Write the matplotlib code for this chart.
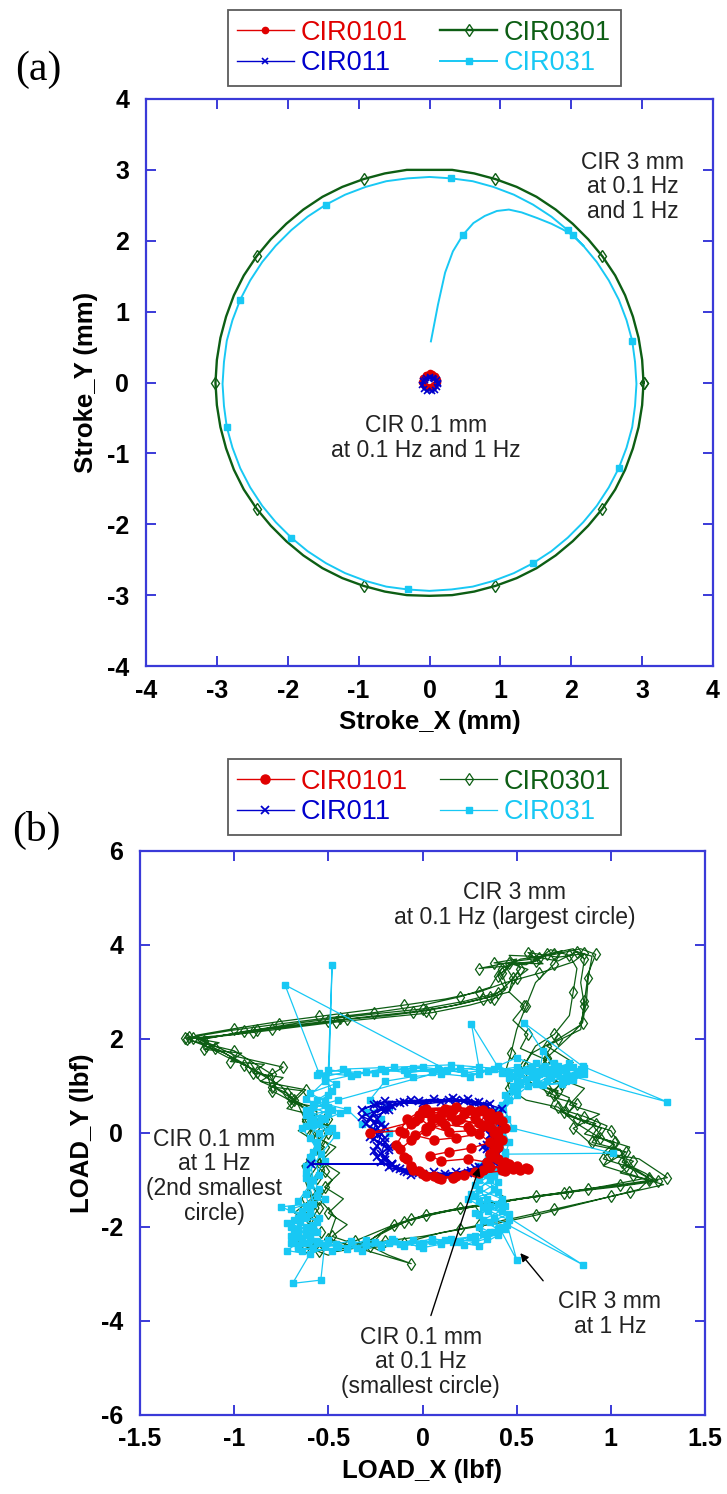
import matplotlib
matplotlib.use("Agg")
import matplotlib.pyplot as plt

plt.rcParams['font.family'] = ['Liberation Sans', 'DejaVu Sans']
plt.rcParams['axes.unicode_minus'] = False

# ---------------- series styling ----------------
RED = '#e00000'
GREEN = '#0d5e14'
BLUE = '#0000cc'
CYAN = '#18c8f4'
SPINE = '#3a3ad8'

names = ['CIR0101', 'CIR011', 'CIR0301', 'CIR031']

# ---------------- (a) stroke paths, mm ----------------
cir0301_a_x = [3.02, 3.00, 2.95, 2.87, 2.76, 2.62, 2.44, 2.24, 2.02, 1.78, 1.51, 1.23, 0.93, 0.63, 0.32, 0.00,
               -0.32, -0.63, -0.93, -1.23, -1.51, -1.78, -2.02, -2.24, -2.44, -2.62, -2.76, -2.87, -2.95, -3.00, -3.02,
               -3.00, -2.95, -2.87, -2.76, -2.62, -2.44, -2.24, -2.02, -1.78, -1.51, -1.23, -0.93, -0.63, -0.32, 0.00,
               0.32, 0.63, 0.93, 1.23, 1.51, 1.78, 2.02, 2.24, 2.44, 2.62, 2.76, 2.87, 2.95, 3.00, 3.02]
cir0301_a_y = [0.00, 0.32, 0.63, 0.93, 1.23, 1.51, 1.78, 2.02, 2.24, 2.44, 2.62, 2.76, 2.87, 2.95, 3.00, 3.00,
               3.00, 2.95, 2.87, 2.76, 2.62, 2.44, 2.24, 2.02, 1.78, 1.51, 1.23, 0.93, 0.63, 0.32, 0.00,
               -0.32, -0.63, -0.93, -1.23, -1.51, -1.78, -2.02, -2.24, -2.44, -2.62, -2.76, -2.87, -2.95, -3.00, -3.01,
               -3.00, -2.95, -2.87, -2.76, -2.62, -2.44, -2.24, -2.02, -1.78, -1.51, -1.23, -0.93, -0.63, -0.32, 0.00]

cir031_a_x = [0.02, 0.12, 0.22, 0.33, 0.47, 0.62, 0.78, 0.95, 1.12, 1.30, 1.52, 1.72, 1.88, 2.02,
              2.17, 2.36, 2.53, 2.67, 2.78, 2.86, 2.90, 2.92, 2.90, 2.86, 2.78, 2.67, 2.53, 2.36, 2.17,
              1.95, 1.72, 1.46, 1.19, 0.90, 0.61, 0.31, 0.00, -0.31, -0.61, -0.90, -1.19, -1.46, -1.72,
              -1.95, -2.17, -2.36, -2.53, -2.67, -2.78, -2.86, -2.90, -2.92, -2.90, -2.86, -2.78, -2.67,
              -2.53, -2.36, -2.17, -1.95, -1.72, -1.46, -1.19, -0.90, -0.61, -0.31, 0.00, 0.31, 0.61,
              0.90, 1.19, 1.46, 1.72, 1.95, 2.17]
cir031_a_y = [0.58, 1.10, 1.55, 1.85, 2.08, 2.25, 2.35, 2.42, 2.44, 2.40, 2.32, 2.24, 2.16, 2.08,
              1.93, 1.70, 1.44, 1.17, 0.88, 0.59, 0.29, -0.02, -0.33, -0.63, -0.92, -1.21, -1.48, -1.74, -1.97,
              -2.19, -2.38, -2.55, -2.69, -2.80, -2.88, -2.92, -2.94, -2.92, -2.88, -2.80, -2.69, -2.55, -2.38,
              -2.19, -1.97, -1.74, -1.48, -1.21, -0.92, -0.63, -0.33, -0.02, 0.29, 0.59, 0.88, 1.17,
              1.44, 1.70, 1.93, 2.15, 2.34, 2.51, 2.65, 2.76, 2.84, 2.88, 2.90, 2.88, 2.84,
              2.76, 2.65, 2.51, 2.34, 2.15, 1.93]
cir031_a_marks = [4, 13, 19, 25, 31, 37, 43, 49, 55, 61, 67, 73]

cir0101_a_x = [0.10, 0.08, 0.04, 0.00, -0.05, -0.09, -0.10, -0.08, -0.03, 0.02, 0.07, 0.10, 0.09, 0.03, -0.04, -0.08]
cir0101_a_y = [0.03, 0.09, 0.12, 0.13, 0.11, 0.07, 0.01, -0.04, -0.07, -0.07, -0.04, 0.01, 0.07, 0.11, 0.10, 0.05]
cir011_a_x = [0.12, 0.10, 0.05, 0.00, -0.05, -0.09, -0.10, -0.08, -0.03, 0.03, 0.08, 0.11, 0.12, 0.07, 0.00, -0.06]
cir011_a_y = [-0.02, 0.04, 0.07, 0.08, 0.06, 0.02, -0.04, -0.09, -0.12, -0.12, -0.10, -0.06, -0.01, 0.05, 0.07, 0.04]

# ---------------- (b) load paths, lbf ----------------
cir0301_b = [
    (-1.22, 2.02), (-1.00, 2.10), (-0.80, 2.22), (-0.62, 2.30), (-0.40, 2.42), (-0.18, 2.50), (0.02, 2.60),
    (0.20, 2.74), (0.36, 2.90), (0.45, 3.10), (0.42, 3.40), (0.50, 3.70), (0.38, 3.62), (0.55, 3.58),
    (0.66, 3.80), (0.80, 3.92), (0.86, 3.70), (0.84, 3.20), (0.86, 2.70), (0.84, 2.30), (0.72, 2.00),
    (0.58, 1.70), (0.52, 1.30), (0.58, 1.05), (0.72, 0.90), (0.68, 0.55), (0.82, 0.30), (0.95, 0.10),
    (0.90, -0.20), (1.05, -0.35), (1.08, -0.70), (1.22, -1.00), (1.05, -1.10), (0.82, -1.22), (0.60, -1.35),
    (0.40, -1.48), (0.20, -1.60), (0.00, -1.76), (-0.15, -1.95), (-0.25, -2.20), (-0.32, -2.42), (-0.45, -2.52),
    (-0.58, -2.38), (-0.62, -2.00), (-0.55, -1.60), (-0.60, -1.20), (-0.52, -0.80), (-0.56, -0.40), (-0.50, 0.00),
    (-0.58, 0.40), (-0.70, 0.75), (-0.75, 1.00), (-0.88, 1.30), (-0.98, 1.55), (-1.10, 1.80),
    (-1.18, 1.98), (-0.95, 2.16), (-0.72, 2.28), (-0.50, 2.38), (-0.28, 2.48), (-0.05, 2.58), (0.15, 2.70),
    (0.32, 2.86), (0.46, 3.00), (0.48, 3.30), (0.44, 3.55), (0.30, 3.50), (0.50, 3.66), (0.62, 3.72),
    (0.74, 3.88), (0.70, 3.60), (0.60, 3.20), (0.55, 2.70), (0.50, 2.20), (0.47, 1.70), (0.44, 1.30),
    (0.46, 0.95), (0.55, 0.70), (0.72, 0.55), (0.80, 0.25), (0.92, -0.05), (1.02, -0.25), (0.96, -0.55),
    (1.12, -0.75), (1.20, -0.95), (0.98, -1.12), (0.75, -1.28), (0.52, -1.40), (0.30, -1.55), (0.08, -1.70),
    (-0.10, -1.90), (-0.22, -2.15), (-0.28, -2.40), (-0.18, -2.60), (-0.06, -2.78), (-0.30, -2.50), (-0.50, -2.25),
    (-0.46, -1.80), (-0.55, -1.40), (-0.48, -1.00), (-0.60, -0.55), (-0.55, -0.10), (-0.62, 0.25), (-0.66, 0.60),
    (-0.80, 0.90), (-0.82, 1.20), (-0.95, 1.45), (-1.05, 1.70), (-1.25, 2.00),
    (-1.10, 2.05), (-0.88, 2.20), (-0.66, 2.34), (-0.44, 2.45), (-0.22, 2.55), (0.00, 2.64), (0.22, 2.80),
    (0.40, 2.98), (0.46, 3.20), (0.52, 3.50), (0.46, 3.78), (0.58, 3.76), (0.72, 3.66), (0.82, 3.86),
    (0.90, 3.76), (0.88, 3.30), (0.87, 2.80), (0.85, 2.35), (0.78, 2.05), (0.66, 1.60), (0.60, 1.20),
    (0.66, 0.95), (0.78, 0.75), (0.75, 0.45), (0.88, 0.20), (1.00, 0.05), (1.04, -0.20), (1.00, -0.45),
    (1.15, -0.55), (1.30, -0.95), (1.12, -1.08), (0.88, -1.20), (0.64, -1.32), (0.42, -1.45), (0.22, -1.58),
    (0.02, -1.74), (-0.18, -2.00), (-0.36, -2.30), (-0.50, -2.60), (-0.62, -2.42), (-0.66, -1.95), (-0.58, -1.50),
    (-0.62, -1.05), (-0.54, -0.60), (-0.58, -0.15), (-0.52, 0.30), (-0.64, 0.55), (-0.72, 0.85), (-0.86, 1.10),
    (-0.92, 1.40), (-1.04, 1.62), (-1.15, 1.85),
    (-1.20, 2.00), (-0.90, 2.14), (-0.70, 2.24), (-0.46, 2.36), (-0.20, 2.46), (0.05, 2.56), (0.25, 2.72),
    (0.38, 2.86), (0.44, 3.05), (0.40, 3.35), (0.48, 3.60), (0.60, 3.65), (0.68, 3.90), (0.78, 3.78),
    (0.82, 3.50), (0.80, 3.00), (0.78, 2.50), (0.70, 2.10), (0.60, 1.85), (0.54, 1.45), (0.56, 1.10),
    (0.70, 0.80), (0.74, 0.50), (0.86, 0.35), (0.98, 0.15), (0.94, -0.10), (1.10, -0.30), (1.06, -0.62),
    (1.18, -0.85), (1.25, -1.02), (1.02, -1.15), (0.78, -1.26), (0.56, -1.38), (0.34, -1.52), (0.14, -1.66),
    (-0.06, -1.84), (-0.20, -2.08), (-0.30, -2.34), (-0.40, -2.45), (-0.55, -2.50), (-0.62, -2.20), (-0.58, -1.85),
    (-0.64, -1.40), (-0.56, -0.95), (-0.52, -0.50), (-0.60, -0.05), (-0.56, 0.45), (-0.68, 0.70), (-0.78, 0.95),
    (-0.80, 1.25), (-0.90, 1.50), (-1.00, 1.75), (-1.22, 1.96),
    (-1.24, 2.04), (-1.08, 1.92), (-1.16, 1.78), (-0.96, 1.70), (-1.02, 1.52), (-0.84, 1.46), (-0.90, 1.28),
    (-0.74, 1.18), (-0.80, 0.98), (-0.64, 0.90), (-0.70, 0.66), (-0.56, 0.55), (-0.62, 0.30), (-0.50, 0.15),
    (-0.56, -0.10), (-0.46, -0.30), (-0.54, -0.60), (-0.44, -0.85), (-0.52, -1.15), (-0.42, -1.40), (-0.50, -1.70),
    (-0.40, -1.95), (-0.48, -2.20), (-0.36, -2.36), (-0.20, -2.30), (0.00, -2.20), (0.20, -2.05), (0.40, -1.92),
    (0.60, -1.75), (0.80, -1.55), (1.00, -1.35), (1.15, -1.20), (1.20, -1.00), (1.05, -0.85), (1.12, -0.60),
    (0.96, -0.42), (1.02, -0.20), (0.86, -0.02), (0.92, 0.20), (0.76, 0.38), (0.82, 0.62), (0.66, 0.80),
    (0.74, 1.05), (0.60, 1.30), (0.66, 1.55), (0.52, 1.80), (0.56, 2.10), (0.48, 2.40), (0.54, 2.70),
    (0.46, 3.00), (0.50, 3.30), (0.56, 3.48), (0.46, 3.62), (0.64, 3.60), (0.56, 3.84), (0.72, 3.74),
    (0.86, 3.82), (0.80, 3.64), (0.62, 3.40), (0.44, 3.20), (0.30, 3.00), (0.12, 2.85), (-0.10, 2.72),
    (-0.32, 2.60), (-0.55, 2.48), (-0.78, 2.36), (-1.00, 2.22), (-1.20, 2.08),
    (-1.16, 1.96), (-0.98, 1.62), (-0.74, 1.40), (-0.86, 1.10), (-0.62, 0.92), (-0.72, 0.52), (-0.50, 0.30),
    (-0.66, 0.05), (-0.52, -0.30), (-0.64, -0.70), (-0.56, -1.30), (-0.68, -1.70), (-0.54, -2.10), (-0.66, -2.30),
    (-0.40, -2.40), (-0.30, -2.46), (-0.10, -2.34), (0.10, -2.12), (0.30, -1.96), (0.50, -1.80), (0.70, -1.62),
    (0.90, -1.44), (1.10, -1.26), (1.28, -1.10), (1.12, -0.90), (0.96, -0.70), (1.08, -0.40), (0.90, -0.25),
    (0.80, 0.10), (0.94, 0.40), (0.78, 0.60), (0.86, 0.95), (0.70, 1.20), (0.80, 1.50), (0.66, 1.85),
    (0.84, 2.20), (0.86, 2.80), (0.88, 3.40), (0.92, 3.80), (0.84, 3.92), (0.70, 3.80), (0.52, 3.70),
    (0.42, 3.50), (0.36, 3.10), (0.20, 2.90), (-0.02, 2.70), (-0.26, 2.56), (-0.52, 2.44), (-0.76, 2.32),
    (-1.02, 2.18), (-1.26, 2.02),
]

cir031_b = [
    (0.80, 1.40), (0.72, 1.30), (0.78, 1.22), (0.66, 1.36), (0.58, 1.28), (0.50, 1.40), (0.35, 1.32),
    (0.20, 1.38), (0.05, 1.30), (-0.10, 1.35), (-0.25, 1.28), (-0.40, 1.30), (-0.52, 1.20), (-0.48, 0.90),
    (-0.56, 0.70), (-0.50, 0.55), (-0.60, 0.45), (-0.52, 0.30), (-0.62, 0.15), (-0.55, 0.00), (-0.58, -0.40),
    (-0.55, -0.90), (-0.62, -1.30), (-0.60, -1.60), (-0.66, -1.80), (-0.58, -1.95), (-0.68, -2.10), (-0.60, -2.25),
    (-0.66, -2.40), (-0.55, -2.35), (-0.45, -2.42), (-0.30, -2.38), (-0.15, -2.30), (0.00, -2.34), (0.15, -2.26),
    (0.28, -2.20), (0.40, -2.05), (0.32, -1.85), (0.42, -1.65), (0.30, -1.45), (0.38, -1.20), (0.34, -0.90),
    (0.40, -0.60), (0.42, -0.20), (0.45, 0.30), (0.44, 0.80), (0.50, 1.10), (0.60, 1.20), (0.70, 1.45),
    (0.82, 1.30),
    (0.75, 1.15), (0.64, 1.74), (0.62, 1.25), (0.55, 1.35), (0.42, 1.28), (0.26, 2.32), (0.30, 1.40),
    (0.12, 1.32), (-0.05, 1.38), (-0.20, 1.32), (-0.35, 1.25), (-0.50, 1.35), (-0.48, 3.57), (-0.50, 0.80),
    (-0.58, 0.62), (-0.48, 0.48), (-0.62, 0.38), (-0.55, 0.20), (-0.60, -0.10), (-0.52, -0.60), (-0.60, -1.10),
    (-0.58, -1.50), (-0.75, -1.57), (-0.65, -1.75), (-0.70, -2.00), (-0.62, -2.15), (-0.68, -2.30), (-0.58, -2.45),
    (-0.69, -3.20), (-0.54, -3.13), (-0.52, -2.40), (-0.38, -2.30), (-0.22, -2.42), (-0.05, -2.28), (0.10, -2.36),
    (0.25, -2.22), (0.36, -2.10), (0.45, -1.95), (0.50, -2.70), (0.38, -1.80), (0.85, -2.80), (0.36, -1.55),
    (0.28, -1.35), (0.40, -1.05), (0.32, -0.80), (0.44, -0.45), (1.01, -0.43), (0.48, 0.10), (0.42, 0.60),
    (0.48, 1.00), (0.66, 1.10), (0.80, 1.20), (1.30, 0.66), (0.85, 1.42), (0.54, 2.34), (0.70, 1.38),
    (0.78, 1.48), (0.68, 1.22), (0.56, 1.32), (0.46, 1.18), (0.38, 1.36), (0.22, 1.28), (0.08, 1.36),
    (-0.08, 1.28), (-0.22, 1.36), (-0.38, 1.22), (-0.55, 1.28), (-0.73, 3.15), (0.13, 1.34), (-0.45, 0.70),
    (-0.58, 0.55), (-0.50, 0.40), (-0.60, 0.25), (-0.48, 0.10), (-0.56, -0.20), (-0.62, -0.70), (-0.55, -1.20),
    (-0.62, -1.55), (-0.55, -1.80), (-0.65, -1.90), (-0.58, -2.05), (-0.70, -2.20), (-0.62, -2.35), (-0.50, -2.28),
    (-0.40, -2.46), (-0.25, -2.32), (-0.10, -2.40), (0.05, -2.25), (0.20, -2.32), (0.32, -2.15), (0.42, -2.00),
    (0.30, -1.75), (0.40, -1.50), (0.26, -1.30), (0.36, -1.00), (0.30, -0.70), (0.38, -0.30), (0.40, 0.20),
    (0.46, 0.70), (0.52, 1.05), (0.64, 1.28), (0.76, 1.10), (0.84, 1.36),
    (0.72, 1.42), (0.60, 1.10), (0.52, 1.25), (0.40, 1.42), (0.25, 1.20), (0.10, 1.26), (-0.05, 1.20),
    (-0.20, 1.10), (-0.28, 0.70), (-0.18, 0.55), (-0.30, 0.45), (-0.22, 0.30), (-0.18, 0.00), (-0.32, 0.20),
    (-0.40, 0.50), (-0.52, 0.62), (-0.62, 0.48), (-0.54, 0.32), (-0.64, 0.10), (-0.56, -0.30), (-0.62, -0.85),
    (-0.56, -1.35), (-0.64, -1.65), (-0.56, -1.90), (-0.66, -2.05), (-0.60, -2.20), (-0.70, -2.35), (-0.64, -2.50),
    (-0.52, -2.38), (-0.35, -2.44), (-0.18, -2.34), (-0.02, -2.40), (0.12, -2.28), (0.28, -2.30), (0.38, -2.10),
    (0.46, -1.85), (0.35, -1.65), (0.42, -1.40), (0.30, -1.20), (0.38, -0.90), (0.35, -0.50), (0.42, 0.00),
    (0.40, 0.50), (0.50, 0.95), (0.58, 1.20), (0.70, 1.30), (0.82, 1.25),
    (0.86, 1.38), (0.74, 1.18), (0.65, 1.42), (0.55, 1.15), (0.46, 1.30), (0.60, 1.48), (0.72, 1.25),
    (0.50, 1.60), (0.30, 1.25), (0.00, 1.40), (-0.30, 1.30), (-0.52, 1.10), (-0.62, 0.72), (-0.50, 0.50),
    (-0.58, 0.30), (-0.50, 0.05), (-0.60, -0.50), (-0.58, -1.00), (-0.66, -1.45), (-0.60, -1.70), (-0.68, -1.85),
    (-0.62, -2.00), (-0.66, -2.20), (-0.56, -2.30), (-0.66, -2.45), (-0.48, -2.50), (-0.30, -2.28), (-0.12, -2.36),
    (0.05, -2.30), (0.22, -2.38), (0.34, -2.25), (0.44, -2.05), (0.36, -1.90), (0.28, -1.70), (0.44, -1.55),
    (0.34, -1.40), (0.28, -1.10), (0.40, -0.80), (0.44, -0.40), (0.38, 0.10), (0.42, 0.55), (0.48, 0.90),
    (0.60, 1.05), (0.76, 1.38),
    (0.62, 1.32), (0.68, 1.18), (0.76, 1.34), (0.70, 1.48), (0.58, 1.40), (0.48, 1.22), (0.52, 1.08),
    (0.64, 1.02), (0.80, 1.12), (0.86, 1.26), (0.50, 1.34), (0.15, 1.45), (-0.15, 1.40), (-0.42, 1.36),
    (-0.56, 1.24), (-0.46, 1.05), (-0.60, 0.85), (-0.52, 0.68), (-0.44, 0.42), (-0.58, 0.18), (-0.46, -0.05),
    (-0.54, -0.45), (-0.62, -0.95), (-0.52, -1.40), (-0.70, -1.62), (-0.62, -1.78), (-0.72, -1.92), (-0.56, -2.10),
    (-0.64, -2.28), (-0.72, -2.50), (-0.60, -2.58), (-0.46, -2.36), (-0.32, -2.50), (-0.16, -2.26), (0.00, -2.44),
    (0.16, -2.32), (0.30, -2.40), (0.40, -2.18), (0.30, -2.00), (0.46, -1.72), (0.32, -1.58), (0.24, -1.40),
    (0.40, -1.25), (0.30, -1.00), (0.42, -0.70), (0.46, -0.20), (0.40, 0.35), (0.50, 0.80), (0.56, 1.00),
    (0.74, 1.05),
]

cir0101_b = [
    (0.00, 0.48), (0.12, 0.52), (0.25, 0.50), (0.36, 0.42), (0.42, 0.25), (0.40, 0.05), (0.42, -0.15),
    (0.38, -0.35), (0.40, -0.55), (0.46, -0.70), (0.55, -0.74), (0.48, -0.76), (0.36, -0.72), (0.28, -0.82),
    (0.18, -0.92), (0.08, -0.96), (0.00, -0.88), (-0.06, -0.70), (-0.10, -0.50), (-0.14, -0.25), (-0.10, 0.00),
    (-0.06, 0.20), (-0.02, 0.38),
    (0.05, 0.30), (0.15, 0.36), (0.28, 0.32), (0.34, 0.20), (0.24, 0.12), (0.12, 0.18), (0.02, 0.10),
    (-0.04, -0.05), (0.06, -0.15), (0.18, -0.10), (0.30, -0.02), (0.36, -0.20), (0.26, -0.32), (0.14, -0.40),
    (0.04, -0.48), (0.10, -0.60), (0.24, -0.55), (0.34, -0.62), (0.42, -0.78), (0.50, -0.70), (0.38, -0.50),
    (0.40, -0.30), (0.38, 0.00), (0.40, 0.30), (0.30, 0.46), (0.16, 0.48), (0.04, 0.42), (-0.04, 0.25),
    (-0.28, 0.00), (-0.12, 0.05), (-0.08, 0.30), (0.02, 0.52), (0.18, 0.55), (0.32, 0.48), (0.40, 0.36),
    (0.44, 0.10), (0.40, -0.20), (0.36, -0.45), (0.44, -0.62), (0.52, -0.78), (0.42, -0.72), (0.32, -0.78),
    (0.22, -0.90), (0.10, -0.98), (0.02, -0.92), (-0.05, -0.78), (-0.08, -0.55), (-0.12, -0.35), (-0.06, -0.15),
    (0.02, 0.05), (0.10, 0.25), (0.22, 0.40), (0.34, 0.38), (0.30, 0.22), (0.18, 0.25), (0.08, 0.32),
    (0.00, 0.46), (0.14, 0.50), (0.28, 0.44), (0.38, 0.30), (0.36, 0.12), (0.26, 0.05), (0.14, 0.02),
    (0.04, 0.15), (-0.02, 0.32), (0.10, 0.40), (0.20, 0.30), (0.32, 0.14), (0.40, -0.08), (0.38, -0.40),
    (0.46, -0.66), (0.56, -0.76), (0.44, -0.80), (0.30, -0.86), (0.16, -0.95), (0.06, -0.92), (-0.02, -0.80),
]

cir011_b = [
    (-0.18, 0.60), (-0.02, 0.68), (0.14, 0.70), (0.28, 0.64), (0.36, 0.50), (0.34, 0.25), (0.38, 0.00),
    (0.34, -0.25), (0.36, -0.50), (0.30, -0.72), (0.18, -0.84), (0.04, -0.90), (-0.08, -0.84), (-0.16, -0.68),
    (-0.22, -0.45), (-0.20, -0.20), (-0.26, 0.05), (-0.24, 0.30), (-0.20, 0.50),
    (-0.10, 0.66), (0.06, 0.72), (0.22, 0.68), (0.34, 0.58), (0.40, 0.38), (0.36, 0.12), (0.40, -0.15),
    (0.36, -0.40), (0.38, -0.62), (0.26, -0.80), (0.12, -0.88), (-0.02, -0.86), (-0.14, -0.74), (-0.16, -0.66),
    (-0.59, -0.66), (-0.16, -0.65), (-0.20, -0.50), (-0.24, -0.28), (-0.22, -0.02), (-0.30, 0.20), (-0.26, 0.42),
    (-0.16, 0.58),
    (-0.24, 0.62), (-0.06, 0.70), (0.10, 0.66), (0.24, 0.72), (0.32, 0.60), (0.38, 0.44), (0.32, 0.20),
    (0.36, -0.05), (0.32, -0.30), (0.38, -0.55), (0.32, -0.78), (0.20, -0.90), (0.06, -0.84), (-0.06, -0.90),
    (-0.18, -0.72), (-0.24, -0.52), (-0.18, -0.30), (-0.28, -0.08), (-0.22, 0.18), (-0.32, 0.35), (-0.22, 0.52),
    (-0.12, 0.64), (0.02, 0.62), (0.18, 0.70), (0.30, 0.66), (0.42, 0.52), (0.38, 0.30), (0.42, 0.08),
    (0.36, -0.20), (0.40, -0.45), (0.34, -0.66), (0.24, -0.86), (0.10, -0.92), (-0.04, -0.80), (-0.12, -0.76),
    (-0.20, -0.58), (-0.18, -0.36), (-0.26, -0.12), (-0.20, 0.12), (-0.28, 0.32), (-0.18, 0.48), (-0.26, 0.60),
    (-0.32, 0.50), (-0.20, 0.68), (0.00, 0.64), (0.16, 0.74), (0.26, 0.60), (0.36, 0.62), (0.40, 0.40),
    (0.34, 0.10), (0.38, -0.10), (0.34, -0.35), (0.40, -0.58), (0.28, -0.74), (0.16, -0.92), (0.00, -0.88),
    (-0.10, -0.80), (-0.22, -0.62), (-0.26, -0.38), (-0.20, -0.10), (-0.26, 0.22),
]

# ---------------- figure ----------------
fig = plt.figure(figsize=(7.27, 14.94), dpi=100)
ax_a = fig.add_axes([146 / 727, 1 - 666 / 1494, 567 / 727, 567 / 1494])
ax_b = fig.add_axes([140 / 727, 1 - 1415 / 1494, 565 / 727, 564 / 1494])


def style_axes(ax):
    for s in ax.spines.values():
        s.set_color(SPINE)
        s.set_linewidth(1.6)
    ax.tick_params(direction='in', length=7, width=1.4, color=SPINE,
                   top=True, right=True, labelsize=18)
    ax.tick_params(axis='y', pad=12)
    ax.tick_params(axis='x', pad=9)
    for lab in ax.get_xticklabels() + ax.get_yticklabels():
        lab.set_fontweight('bold')


# panel (a)
la_red, = ax_a.plot(cir0101_a_x, cir0101_a_y, color=RED, lw=1.0, marker='o', ms=4.5)
la_blue, = ax_a.plot(cir011_a_x, cir011_a_y, color=BLUE, lw=1.0, marker='x', ms=5, mew=1.2)
la_green, = ax_a.plot(cir0301_a_x, cir0301_a_y, color=GREEN, lw=1.7, marker='d', ms=6.5,
                      mfc='none', mew=1.0, markevery=(0, 6))
la_cyan, = ax_a.plot(cir031_a_x, cir031_a_y, color=CYAN, lw=1.4, marker='s', ms=5,
                     markevery=cir031_a_marks)
ax_a.set_xlim(-4, 4)
ax_a.set_ylim(-4, 4)
ax_a.set_xticks(range(-4, 5))
ax_a.set_yticks(range(-4, 5))
style_axes(ax_a)
ax_a.set_xlabel('Stroke_X (mm)', fontsize=18.5, fontweight='bold')
ax_a.set_ylabel('Stroke_Y (mm)', fontsize=18.5, fontweight='bold')
ax_a.xaxis.set_label_coords(0.5, -0.078)
ax_a.yaxis.set_label_coords(-0.085, 0.5)

ax_a.text(2.87, 2.76, 'CIR 3 mm\nat 0.1 Hz\nand 1 Hz', ha='center', va='center',
          fontsize=16.5, linespacing=1.1, color='#222222')
ax_a.text(-0.05, -0.78, 'CIR 0.1 mm\nat 0.1 Hz and 1 Hz', ha='center', va='center',
          fontsize=16.5, linespacing=1.1, color='#222222')

# panel (b)
gx, gy = zip(*cir0301_b)
cx, cy = zip(*cir031_b)
rx, ry = zip(*cir0101_b)
bx, by = zip(*cir011_b)
lb_green, = ax_b.plot(gx, gy, color=GREEN, lw=0.9, marker='d', ms=6, mfc='none',
                      mew=0.9, markevery=2)
lb_cyan, = ax_b.plot(cx, cy, color=CYAN, lw=0.9, marker='s', ms=5)
lb_blue, = ax_b.plot(bx, by, color=BLUE, lw=1.0, marker='x', ms=5.5, mew=1.3)
lb_red, = ax_b.plot(rx, ry, color=RED, lw=1.0, marker='o', ms=6.5)
ax_b.set_xlim(-1.5, 1.5)
ax_b.set_ylim(-6, 6)
ax_b.set_xticks([-1.5, -1, -0.5, 0, 0.5, 1, 1.5])
ax_b.set_xticklabels(['-1.5', '-1', '-0.5', '0', '0.5', '1', '1.5'])
ax_b.set_yticks(range(-6, 7, 2))
style_axes(ax_b)
ax_b.set_xlabel('LOAD_X (lbf)', fontsize=18.5, fontweight='bold')
ax_b.set_ylabel('LOAD_Y (lbf)', fontsize=18.5, fontweight='bold')
ax_b.xaxis.set_label_coords(0.5, -0.078)
ax_b.yaxis.set_label_coords(-0.081, 0.5)

txt = dict(ha='center', va='center', fontsize=16.5, linespacing=1.1, color='#222222')
ax_b.text(0.49, 4.85, 'CIR 3 mm\nat 0.1 Hz (largest circle)', **txt)
ax_b.text(-1.107, -0.92, 'CIR 0.1 mm\nat 1 Hz\n(2nd smallest\ncircle)', **txt)
ax_b.text(-0.01, -4.87, 'CIR 0.1 mm\nat 0.1 Hz\n(smallest circle)', **txt)
ax_b.text(0.995, -3.85, 'CIR 3 mm\nat 1 Hz', **txt)
arrow = dict(arrowstyle='-|>', color='black', lw=1.0, mutation_scale=12)
ax_b.annotate('', xy=(0.305, -0.68), xytext=(0.04, -3.94), arrowprops=arrow)
ax_b.annotate('', xy=(0.51, -2.51), xytext=(0.65, -3.19), arrowprops=arrow)


# legends and panel tags
def add_legend(handles, cy):
    leg = fig.legend(handles, names, loc='center', bbox_to_anchor=(424 / 727, cy),
                     ncol=2, fontsize=19.5, frameon=True, fancybox=False,
                     edgecolor='#333333', handlelength=2.1, columnspacing=1.2,
                     handletextpad=0.25, borderpad=0.35, labelspacing=0.15,
                     numpoints=1)
    leg.get_frame().set_linewidth(1.3)
    for t, h in zip(leg.get_texts(), handles):
        t.set_color(h.get_color())
    return leg


add_legend([la_red, la_blue, la_green, la_cyan], 1 - 48 / 1494)
add_legend([lb_red, lb_blue, lb_green, lb_cyan], 1 - 797 / 1494)

fig.text(38 / 727, 1 - 70 / 1494, '(a)', fontsize=30, family='Liberation Serif',
         ha='center', va='center')
fig.text(36 / 727, 1 - 830 / 1494, '(b)', fontsize=30, family='Liberation Serif',
         ha='center', va='center')

fig.savefig('out.png', dpi=100)
